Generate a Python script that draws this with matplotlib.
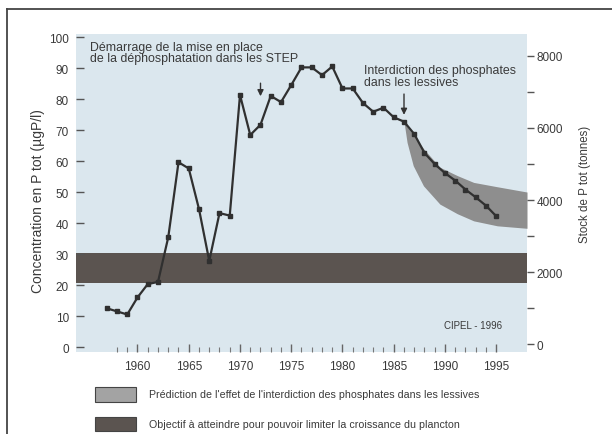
import matplotlib.pyplot as plt
import matplotlib.patches as mpatches
from matplotlib.ticker import MultipleLocator

plt.rcParams['font.family'] = ['Liberation Sans', 'DejaVu Sans']

# concentration en P tot (ugP/l)
annees = list(range(1957, 1996))
conc = [12.5, 11.5, 10.5, 16.0, 20.3, 21.0, 35.4, 59.6, 57.6, 44.5,
        27.8, 43.2, 42.4, 81.3, 68.4, 71.7, 81.0, 79.0, 84.5, 90.2,
        90.2, 87.7, 90.5, 83.4, 83.4, 78.7, 75.9, 77.2, 74.1, 72.7,
        68.7, 62.6, 59.0, 56.1, 53.7, 50.8, 48.3, 45.6, 42.2]

# prediction (bande grise)
pred_x = [1986, 1986.3, 1986.9, 1987.9, 1989.5, 1991.2, 1992.8, 1995.1, 1998]
pred_haut = [72.7, 71.0, 68.5, 64.0, 58.0, 55.3, 53.1, 51.7, 50.0]
pred_bas = [72.7, 66.0, 58.5, 52.0, 46.1, 43.0, 40.7, 39.1, 38.3]

# objectif
obj_bas, obj_haut = 20.5, 30.4

fond = '#dbe7ee'
gris_pred = '#8e8e8e'
gris_obj = '#5b5450'
trait = '#303030'
txt = '#3a3a3a'

fig = plt.figure(figsize=(6.12, 4.35), dpi=100)
fig.set_facecolor('white')
ax = fig.add_axes([76/612, 1-353/435, 451/612, 318/435])
ax.set_facecolor(fond)
ax.set_xlim(1954, 1998)
ax.set_ylim(-1.6, 100.97)

ax.axhspan(obj_bas, obj_haut, color=gris_obj, lw=0, zorder=1)
ax.fill_between(pred_x, pred_bas, pred_haut, color=gris_pred, lw=0, zorder=2)
ax.plot(annees, conc, color=trait, lw=1.6, marker='s', ms=3.5,
        mfc=trait, mec=trait, zorder=3)

for s in ax.spines.values():
    s.set_visible(False)

ax.set_yticks(range(0, 101, 10))
ax.tick_params(axis='y', direction='in', length=6, width=1, color='#555555',
               labelsize=8.5, pad=5, labelcolor=txt)
ax.set_xticks(range(1960, 1996, 5))
ax.set_xticks(range(1958, 1996), minor=True)
ax.tick_params(axis='x', which='major', direction='in', length=6, width=1,
               color='#666666', labelsize=8.5, pad=6, labelcolor=txt)
ax.tick_params(axis='x', which='minor', direction='in', length=3.5, width=0.8,
               color='#777777')

ax2 = ax.twinx()
ax2.set_ylim(-222, 8611)
ax2.set_yticks(range(0, 8001, 2000))
ax2.yaxis.set_minor_locator(MultipleLocator(1000))
ax2.tick_params(axis='y', which='both', direction='out', length=5, width=1,
                color='#555555', labelsize=8.5, pad=2, labelcolor=txt)
for s in ax2.spines.values():
    s.set_visible(False)

# annotations
ax.text(1955.4, 98.8, 'Démarrage de la mise en place\nde la déphosphatation dans les STEP',
        ha='left', va='top', fontsize=8.9, color=txt, linespacing=0.95)
ax.annotate('', xy=(1972, 80), xytext=(1972, 86),
            arrowprops=dict(arrowstyle='-|>', color='#333333', lw=1, mutation_scale=9))
ax.text(1982.1, 91.2, 'Interdiction des phosphates\ndans les lessives',
        ha='left', va='top', fontsize=8.9, color=txt, linespacing=0.95)
ax.annotate('', xy=(1986, 74), xytext=(1986, 82.5),
            arrowprops=dict(arrowstyle='-|>', color='#333333', lw=1, mutation_scale=9))
ax.text(1995.6, 7, 'CIPEL - 1996', ha='right', va='center', fontsize=7,
        color=txt)

fig.text(38/612, 1-201/435, 'Concentration en P tot (µgP/l)', rotation=90,
         ha='center', va='center', fontsize=10, color=txt)
fig.text(585/612, 1-184/435, 'Stock de P tot (tonnes)', rotation=90,
         ha='center', va='center', fontsize=8.3, color=txt)

# legende
fig.patches.append(mpatches.Rectangle((95/612, 1-403/435), 41/612, 15/435,
                   transform=fig.transFigure, fc='#a3a3a3', ec='#444444', lw=0.8))
fig.patches.append(mpatches.Rectangle((95/612, 1-432/435), 41/612, 14/435,
                   transform=fig.transFigure, fc=gris_obj, ec='#444444', lw=0.8))
fig.text(149/612, 1-395/435,
         "Prédiction de l'effet de l'interdiction des phosphates dans les lessives",
         ha='left', va='center', fontsize=7.7, color=txt)
fig.text(149/612, 1-425/435,
         'Objectif à atteindre pour pouvoir limiter la croissance du plancton',
         ha='left', va='center', fontsize=7.7, color=txt)

# cadre
fig.add_artist(plt.Line2D([7/612, 7/612], [0, 1-10/435], transform=fig.transFigure,
                          color='#444444', lw=1.3))
fig.add_artist(plt.Line2D([7/612, 1], [1-10/435, 1-10/435], transform=fig.transFigure,
                          color='#444444', lw=1.3))

fig.savefig('out.png', dpi=100)
